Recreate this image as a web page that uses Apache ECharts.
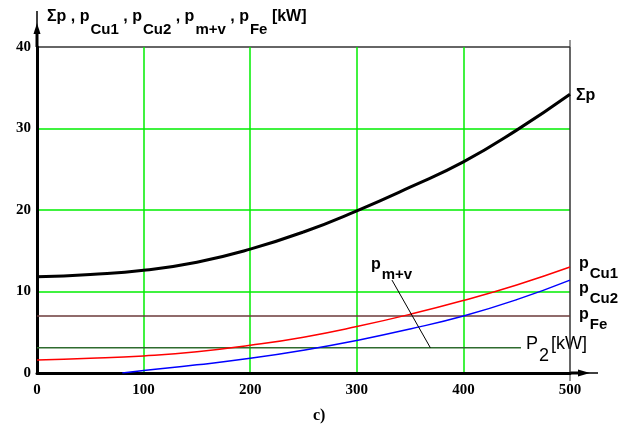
<!DOCTYPE html>
<html><head><meta charset="utf-8">
<script src="https://cdn.jsdelivr.net/npm/echarts@6/dist/echarts.min.js"></script>
<style>html,body{margin:0;padding:0;background:#fff}#c{width:634px;height:428px}</style>
</head><body><div id="c"></div>
<script>
// Data
const xTicks = [0, 100, 200, 300, 400, 500];
const yTicks = [0, 10, 20, 30, 40];
const P2 = [0, 50, 100, 150, 200, 250, 300, 350, 400, 450, 500];
const sumP = [11.8, 12.1, 12.6, 13.6, 15.2, 17.3, 19.9, 22.8, 25.9, 29.8, 34.2];
const pCu1 = [1.6, 1.8, 2.1, 2.6, 3.4, 4.4, 5.7, 7.2, 8.9, 10.8, 13.0];
const pCu2X = [80, 100, 150, 200, 250, 300, 350, 400, 450, 500];
const pCu2 = [0.0, 0.3, 1.0, 1.8, 2.8, 4.0, 5.4, 7.0, 9.0, 11.4];
const pFeX = [0, 500];
const pFe = [7.0, 7.0];
const pmvX = [0, 454];
const pmv = [3.1, 3.1];
const leaderX = [333, 369];
const leaderY = [11.4, 3.1];

const zip = (xs, ys) => xs.map((x, i) => [x, ys[i]]);
const G = '#00ee00';
const chart = echarts.init(document.getElementById('c'));
const tickFont = {fontFamily: 'Liberation Serif', fontWeight: 'bold', fontSize: 15, color: '#000'};
const lblFont = 'Liberation Sans';
function pl(sub, st) {
  return '{p|p}{' + (st || 's') + '|' + sub + '}';
}
const rich = {
  p: {fontFamily: lblFont, fontSize: 16, fontWeight: 'bold', verticalAlign: 'top', lineHeight: 22, color: '#000'},
  s: {fontFamily: lblFont, fontSize: 15, fontWeight: 'bold', verticalAlign: 'bottom', lineHeight: 22, color: '#000', padding: [0,0,-6,1]},
  r: {fontFamily: lblFont, fontSize: 15, fontWeight: 'bold', verticalAlign: 'bottom', lineHeight: 22, color: '#000', padding: [0,0,-3,1]},
  t: {fontFamily: lblFont, fontSize: 16, fontWeight: 'bold', verticalAlign: 'top', lineHeight: 22, color: '#000'},
  n: {fontFamily: lblFont, fontSize: 18, fontWeight: 'normal', verticalAlign: 'top', lineHeight: 24, color: '#000'},
  ns: {fontFamily: lblFont, fontSize: 18, fontWeight: 'normal', verticalAlign: 'bottom', lineHeight: 24, color: '#000', padding: [0,2,-6,1]}
};
chart.setOption({
  animation: false,
  grid: {left: 37, right: 64, top: 47, bottom: 55},
  xAxis: {type: 'value', min: 0, max: 500, interval: 100,
    axisLine: {show: true, lineStyle: {color: '#000', width: 3}},
    axisTick: {show: false},
    axisLabel: Object.assign({margin: 10}, tickFont),
    splitLine: {show: true, lineStyle: {color: [G, G, G, G, G, '#333'], width: 1.5}}},
  yAxis: {type: 'value', min: 0, max: 40, interval: 10,
    axisLine: {show: true, lineStyle: {color: '#000', width: 3}},
    axisTick: {show: false},
    axisLabel: Object.assign({margin: 6}, tickFont),
    splitLine: {show: true, lineStyle: {color: [G, G, G, G, '#333'], width: 1.5}}},
  series: [
    {type: 'line', data: zip(P2, sumP), smooth: true, symbol: 'none', lineStyle: {color: '#000', width: 3}, z: 5},
    {type: 'line', data: zip(P2, pCu1), smooth: true, symbol: 'none', lineStyle: {color: '#ff0000', width: 1.5}, z: 4},
    {type: 'line', data: zip(pCu2X, pCu2), smooth: true, symbol: 'none', lineStyle: {color: '#0000ff', width: 1.5}, z: 4},
    {type: 'line', data: zip(pFeX, pFe), symbol: 'none', lineStyle: {color: '#6b3a3a', width: 1.5}, z: 3},
    {type: 'line', data: zip(pmvX, pmv), symbol: 'none', lineStyle: {color: '#2e6b2e', width: 1.5}, z: 3},
    {type: 'line', data: zip(leaderX, leaderY), symbol: 'none', lineStyle: {color: '#000', width: 1}, z: 6}
  ],
  graphic: [
    // y axis extension with arrow
    {type: 'line', shape: {x1: 37, y1: 47, x2: 37, y2: 33}, style: {stroke: '#000', lineWidth: 3}},
    {type: 'line', shape: {x1: 37, y1: 33, x2: 37, y2: 11}, style: {stroke: '#000', lineWidth: 1.5}},
    {type: 'polygon', shape: {points: [[33.5, 34], [40.5, 34], [37, 23]]}, style: {fill: '#000'}},
    // x axis extension with arrow
    {type: 'line', shape: {x1: 570, y1: 373, x2: 580, y2: 373}, style: {stroke: '#000', lineWidth: 3}},
    {type: 'line', shape: {x1: 580, y1: 373, x2: 598, y2: 373}, style: {stroke: '#000', lineWidth: 1.5}},
    {type: 'polygon', shape: {points: [[578, 369.5], [578, 376.5], [590, 373]]}, style: {fill: '#000'}},
    // right border extension
    {type: 'line', shape: {x1: 570, y1: 40, x2: 570, y2: 47}, style: {stroke: '#333', lineWidth: 1}},
    {type: 'line', shape: {x1: 570, y1: 373, x2: 570, y2: 381}, style: {stroke: '#333', lineWidth: 1}},
    // title
    {type: 'text', left: 47, top: 9, style: {text: '{t|Σp , }' + pl('Cu1') + '{t| , }' + pl('Cu2') + '{t| , }' + pl('m+v') + '{t| , }' + pl('Fe') + '{t| [kW]}', rich: rich}},
    // series labels
    {type: 'text', left: 576, top: 88, style: {text: '{t|Σp}', rich: rich}},
    {type: 'text', left: 579, top: 256, style: {text: pl('Cu1', 'r'), rich: rich}},
    {type: 'text', left: 579, top: 281, style: {text: pl('Cu2', 'r'), rich: rich}},
    {type: 'text', left: 579, top: 307, style: {text: pl('Fe', 'r'), rich: rich}},
    {type: 'text', left: 371, top: 257, style: {text: pl('m+v', 'r'), rich: rich}},
    {type: 'text', left: 526, top: 335, style: {text: '{n|P}{ns|2}{n|[kW]}', rich: rich}},
    {type: 'text', left: 313, top: 408, style: {text: 'c)', font: 'bold 16px "Liberation Serif"', fill: '#000'}}
  ]
});
</script></body></html>
